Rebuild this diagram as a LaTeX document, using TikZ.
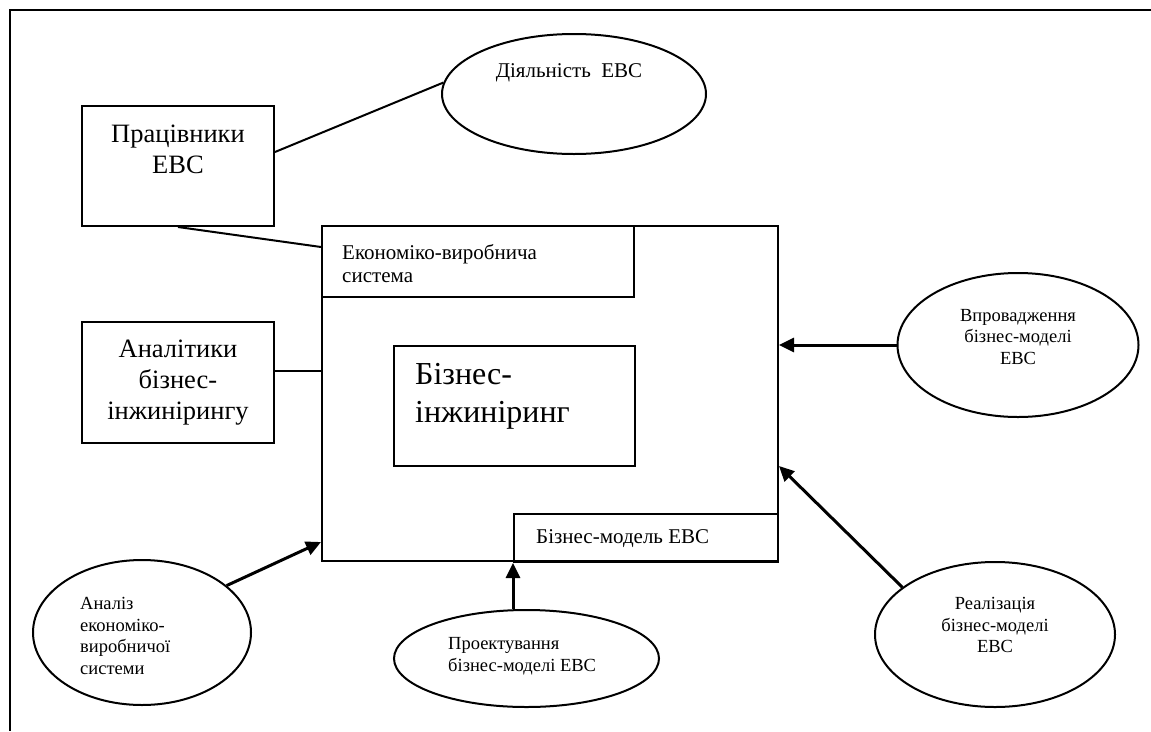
\documentclass[tikz,border=0pt]{standalone}
\usepackage{fontspec}
\setmainfont{Liberation Serif}
\usetikzlibrary{shapes.geometric,arrows.meta,calc}
\begin{document}
\begin{tikzpicture}[x=1pt,y=-1pt,
  box/.style={draw,line width=2pt,inner sep=0pt,rectangle},
  oval/.style={draw,line width=2pt,ellipse,inner sep=0pt},
  conn/.style={line width=2pt},
  arr/.style={line width=3pt,-{Triangle[length=15pt,width=14pt]}},
  bigtxt/.style={inner sep=0pt,align=center,font=\fontsize{26.5}{31}\selectfont},
  hugetxt/.style={inner sep=0pt,align=left,font=\fontsize{32}{38}\selectfont},
  midtxt/.style={inner sep=0pt,align=left,font=\fontsize{21}{23}\selectfont},
  smalltxt/.style={inner sep=0pt,font=\fontsize{18.5}{21.5}\selectfont}]
\useasboundingbox (0,0) rectangle (1151,731);
% frame
\draw[line width=2pt] (1151,10) -- (10,10) -- (10,731);

% left boxes
\node[box,minimum width=192pt,minimum height=120pt] (prac) at (178,166) {};
\node[bigtxt] (pract) at (178,149) {Працівники\\ЕВС};
\node[box,minimum width=192pt,minimum height=121pt] (anal) at (178,382.5) {};
\node[bigtxt] (analt) at (178,383) {Аналітики\\бізнес-\\інжинірингу};

% main system
\node[box,minimum width=456pt,minimum height=335pt] (main) at (550,393.5) {};
\node[box,minimum width=312pt,minimum height=71pt] (econ) at (478,261.5) {};
\node[midtxt,anchor=west] (econt) at (342,263.5) {Економіко-виробнича\\система};
\node[box,minimum width=241pt,minimum height=120pt] (bi) at (514.5,406) {};
\node[hugetxt,anchor=west] (bit) at (415,396) {Бізнес-\\інжиніринг};
\node[box,minimum width=264pt,minimum height=48pt] (bm) at (646,538) {};
\node[midtxt,anchor=west] (bmt) at (536,539) {Бізнес-модель ЕВС};

% ellipses
\node[oval,minimum width=264pt,minimum height=120pt] (dial) at (574,94) {};
\node[midtxt,align=center] (dialt) at (569,73) {Діяльність\ \ ЕВС};
\node[oval,minimum width=241pt,minimum height=144pt] (vprov) at (1018,345) {};
\node[smalltxt,align=center] (vprovt) at (1018,337) {Впровадження\\бізнес-моделі\\ЕВС};
\node[oval,minimum width=240pt,minimum height=145pt] (real) at (995,634.5) {};
\node[smalltxt,align=center] (realt) at (995,625) {Реалізація\\бізнес-моделі\\ЕВС};
\node[oval,minimum width=265pt,minimum height=97pt] (proekt) at (526.5,658.5) {};
\node[smalltxt,align=left,anchor=west] (proektt) at (448,656) {Проектування\\бізнес-моделі ЕВС};
\node[oval,minimum width=218pt,minimum height=145pt] (analiz) at (142,632.5) {};
\node[smalltxt,align=left,anchor=west] (analizt) at (80,636) {Аналіз\\економіко-\\виробничої\\системи};

% plain connectors
\draw[conn] ($(prac.north east)+(0,47)$) -- (dial.175);
\draw[conn] (prac.south) -- ($(econ.north west)+(0,22)$);
\draw[conn] ($(anal.east)+(0,-12)$) coordinate (a1) -- (a1 -| main.west);

% arrows
\draw[arr] (vprov.west) -- (vprov.west -| main.east);
\draw[arr] (real.153) -- ($(main.south east)+(0,-96)$);
\draw[arr] (bm.south west |- proekt.north) -- (bm.south west);
\draw[arr] (analiz.29) -- ($(main.south west)+(0,-20)$);
\end{tikzpicture}
\end{document}
